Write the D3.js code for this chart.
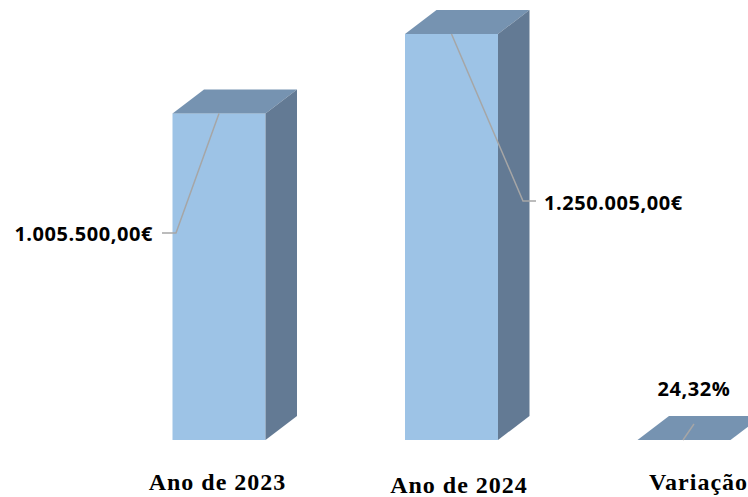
<!DOCTYPE html>
<html>
<head>
<meta charset="utf-8">
<script src="https://cdn.jsdelivr.net/npm/d3@7"></script>
<style>
  html, body { margin: 0; padding: 0; background: #fff; overflow: hidden; }
  svg { display: block; }
</style>
</head>
<body>
<svg id="chart"></svg>
<script>
// values
const categories = ['Ano de 2023', 'Ano de 2024', 'Variação'];
const values = [1005500, 1250005, 24.32];
const valueLabels = ['1.005.500,00€', '1.250.005,00€', '24,32%'];

const width = 748;
const height = 497;
const depthX = 31.5;
const depthY = 24;

// hand placed labels, same as the original chart: offsets from the bar centre / value top
const catLabelY = [489.5, 493, 489.5];
const catLabelDx = [-1.5, 7.5, 14.5];
const valueLabelPos = [
  { x: 153, y: 241, anchor: 'end' },
  { x: 544, y: 210, anchor: 'start' },
  { x: 694, y: 396, anchor: 'middle' }
];
const leaders = [
  { elbow: [176, 233], end: [162, 233] },
  { elbow: [523, 201], end: [536, 201] },
  { elbow: [694, 424], end: [694, 424] }
];

const svg = d3.select('#chart').attr('width', width).attr('height', height);

const x = d3.scaleBand()
  .domain(categories)
  .range([102.75, 800.25])
  .paddingInner(0.6)
  .paddingOuter(0.3);

const y = d3.scaleLinear()
  .domain([0, 1250005])
  .range([440, 34]);

const bars = svg.selectAll('g.bar')
  .data(categories.map((c, i) => ({ c, v: values[i], i })))
  .enter()
  .append('g')
  .attr('class', 'bar');

// front
bars.append('rect')
  .attr('x', d => x(d.c))
  .attr('y', d => y(d.v))
  .attr('width', x.bandwidth())
  .attr('height', d => y(0) - y(d.v))
  .attr('fill', '#9dc3e6');

// top face
bars.append('polygon')
  .attr('points', d => {
    const l = x(d.c), r = l + x.bandwidth(), t = y(d.v);
    return [[l, t], [l + depthX, t - depthY], [r + depthX, t - depthY], [r, t]].join(' ');
  })
  .attr('fill', '#7693b1');

// side face
bars.append('polygon')
  .attr('points', d => {
    const r = x(d.c) + x.bandwidth(), t = y(d.v);
    return [[r, t], [r + depthX, t - depthY], [r + depthX, y(0) - depthY], [r, y(0)]].join(' ');
  })
  .attr('fill', '#637a94');

// leader lines
bars.append('polyline')
  .attr('points', d => {
    const start = [x(d.c) + x.bandwidth() / 2 - (d.i === 2 ? 1 : 0), y(d.v)];
    return [start, leaders[d.i].elbow, leaders[d.i].end].join(' ');
  })
  .attr('fill', 'none')
  .attr('stroke', '#a6a6a6')
  .attr('stroke-width', 1.5);

// value labels
svg.selectAll('text.value')
  .data(valueLabels)
  .enter()
  .append('text')
  .attr('class', 'value')
  .attr('x', (d, i) => valueLabelPos[i].x)
  .attr('y', (d, i) => valueLabelPos[i].y)
  .attr('text-anchor', (d, i) => valueLabelPos[i].anchor)
  .attr('font-family', '"Open Sans", sans-serif')
  .attr('font-weight', 700)
  .attr('font-size', 20)
  .attr('letter-spacing', 0.55)
  .attr('fill', '#000')
  .text(d => d);

// category labels
svg.selectAll('text.cat')
  .data(categories)
  .enter()
  .append('text')
  .attr('class', 'cat')
  .attr('x', d => x(d) + x.bandwidth() / 2 + catLabelDx[categories.indexOf(d)])
  .attr('y', (d, i) => catLabelY[i])
  .attr('text-anchor', 'middle')
  .attr('font-family', '"Liberation Serif", serif')
  .attr('font-weight', 700)
  .attr('font-size', 24)
  .attr('letter-spacing', 1)
  .attr('fill', '#000')
  .text(d => d);
</script>
</body>
</html>
